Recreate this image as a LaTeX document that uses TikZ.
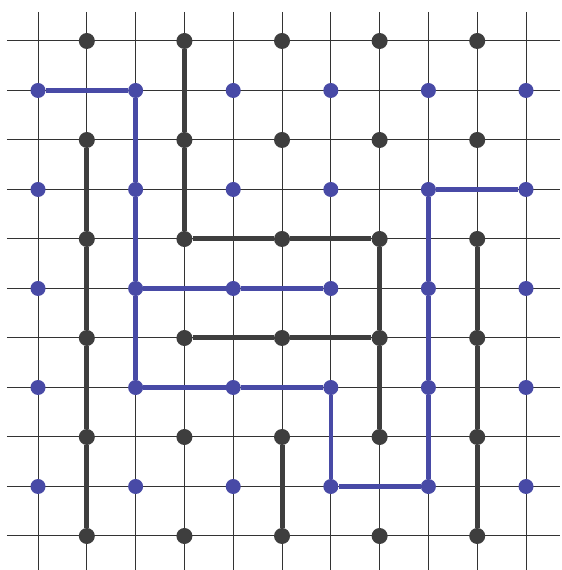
\documentclass[tikz,border=0pt]{standalone}
\usepackage{tikz}
\usetikzlibrary{positioning}
\definecolor{pegblue}{RGB}{72,74,166}
\definecolor{peggray}{RGB}{62,62,62}

\begin{document}
\begin{tikzpicture}[x=48.8pt, y=-49.5pt,
  graydot/.style={circle, fill=peggray, inner sep=0pt, minimum size=16pt},
  bluedot/.style={circle, fill=pegblue, inner sep=0pt, minimum size=15pt},
  graylink/.style={peggray, line width=5pt},
  bluelink/.style={pegblue, line width=4.5pt},
  gridline/.style={black!80, line width=1pt}]
  % Page frame
  \useasboundingbox (-0.779,-0.828) rectangle (10.717,10.687);
  % Grid
  \foreach \k in {0,...,10} {
    \draw[gridline] (-0.64,\k) -- (10.7,\k);
    \draw[gridline] (\k,-0.59) -- (\k,10.69);
  }
  % Gray pegs
  \foreach \r in {0,2,...,10}
    \foreach \c in {1,3,...,9}
      \node[graydot] (p-\c-\r) at (\c,\r) {};
  % Blue pegs
  \foreach \r in {1,3,...,9}
    \foreach \c in {0,2,...,10}
      \node[bluedot] (p-\c-\r) at (\c,\r) {};
  % Gray links
  \draw[graylink] (p-3-0) -- (p-3-2) -- (p-3-4) -- (p-5-4) -- (p-7-4)
    -- (p-7-6) -- (p-7-8);
  \draw[graylink] (p-3-6) -- (p-5-6) -- (p-7-6);
  \draw[graylink] (p-1-2) -- (p-1-4) -- (p-1-6) -- (p-1-8) -- (p-1-10);
  \draw[graylink] (p-9-4) -- (p-9-6) -- (p-9-8) -- (p-9-10);
  \draw[graylink] (p-5-8) -- (p-5-10);
  % Blue links
  \draw[bluelink] (p-0-1) -- (p-2-1) -- (p-2-3) -- (p-2-5) -- (p-2-7)
    -- (p-4-7) -- (p-6-7) -- (p-6-9) -- (p-8-9) -- (p-8-7) -- (p-8-5)
    -- (p-8-3) -- (p-10-3);
  \draw[bluelink] (p-2-5) -- (p-4-5) -- (p-6-5);
\end{tikzpicture}
\end{document}
